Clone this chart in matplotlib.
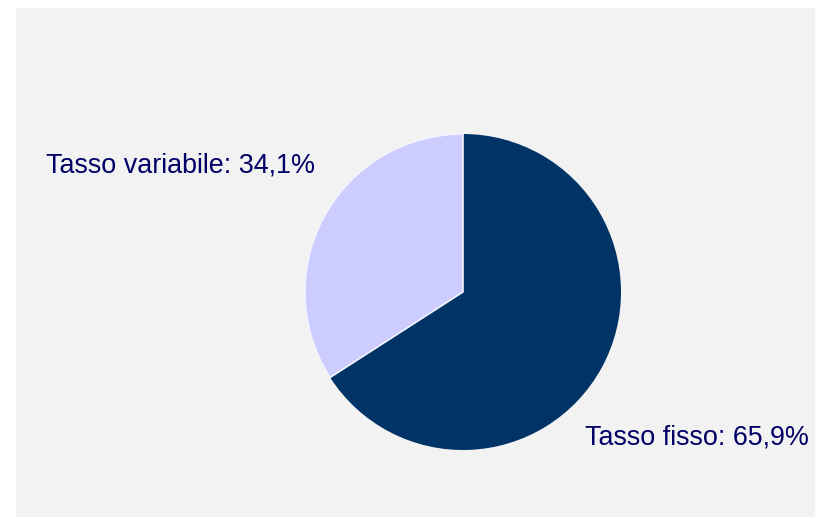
import matplotlib.pyplot as plt

# quote di mutui per tipo di tasso (%)
labels = ['Tasso fisso', 'Tasso variabile']
shares = [65.9, 34.1]
colors = ['#003366', '#ccccff']

W, H = 815, 517
fig = plt.figure(figsize=(W / 100, H / 100), dpi=100)
fig.patch.set_facecolor('white')

# grey plot area, data units = pixels
ax = fig.add_axes([16 / W, 0, (W - 16) / W, (H - 8) / H])
ax.set_facecolor('#f2f2f2')
ax.add_patch(plt.Rectangle((0, 0), W - 16, H - 8, color='#f2f2f2', zorder=0))

wedges, _ = ax.pie(shares, colors=colors, startangle=90, counterclock=False,
                   center=(447, 225), radius=158, explode=[0, 0.025],
                   wedgeprops=dict(linewidth=0), frame=True)
wedges[1].set_edgecolor('#f4f4ff')
wedges[1].set_linewidth(1.2)
ax.set_xlim(0, W - 16)
ax.set_ylim(0, H - 8)
ax.set_aspect('equal')
ax.axis('off')

def fmt(name, v):
    return '%s: %s%%' % (name, ('%.1f' % v).replace('.', ','))

font = dict(family=['Liberation Sans', 'DejaVu Sans'], fontsize=19.4, color='#000066')
ax.text(299, 345, fmt(labels[1], shares[1]), ha='right', va='baseline', **font)
ax.text(569, 72, fmt(labels[0], shares[0]), ha='left', va='baseline', **font)

fig.savefig('out.png', dpi=100)
